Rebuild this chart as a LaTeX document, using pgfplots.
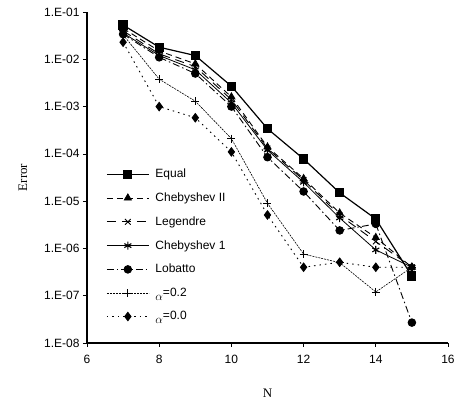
\documentclass[border=0pt]{standalone}
\usepackage{fontspec}
\setmainfont{Liberation Sans}
\newfontfamily\serifl{Liberation Serif}
\usepackage{pgfplots}
\pgfplotsset{compat=1.18}
\begin{document}
\begin{tikzpicture}
\begin{semilogyaxis}[name=ax,
  scale only axis, width=361pt, height=331pt,
  xmin=6, xmax=16, ymin=1e-8, ymax=1e-1,
  axis lines=left, axis line style={-, line width=1.2pt},
  tick align=outside, major tick length=4pt, tick style={black, line width=0.6pt},
  yminorticks=false,
  xtick={6,8,10,12,14,16}, xticklabels={6,8,10,12,14,16},
  ytick={1e-8,1e-7,1e-6,1e-5,1e-4,1e-3,1e-2,1e-1},
  yticklabels={1.E-08,1.E-07,1.E-06,1.E-05,1.E-04,1.E-03,1.E-02,1.E-01},
  ticklabel style={font=\fontsize{12}{14}\selectfont},
  xticklabel style={yshift=-5pt},
  xlabel={\serifl N}, ylabel={\serifl Error},
  label style={font=\fontsize{13}{15}\selectfont},
  xlabel style={yshift=-18pt},
  ylabel style={yshift=10pt},
  legend cell align=left,
  legend style={draw=none, fill=none, at={(rel axis cs:0.05,0.535)}, anchor=north west,
    font=\fontsize{12}{14}\selectfont, row sep=9.6pt, inner sep=1pt,
    nodes={inner xsep=6pt}},
  legend image code/.code={\draw[#1] (0pt,0pt) -- (21pt,0pt) -- (42pt,0pt);
    \draw[#1, solid] plot coordinates {(21pt,0pt)};},
  every axis plot/.append style={black},
]
\addplot[line width=1.2pt, mark=square*, mark size=4pt, mark options={solid}] coordinates
 {(7,5.3e-2)(8,1.8e-2)(9,1.2e-2)(10,2.7e-3)(11,3.4e-4)(12,7.8e-5)(13,1.5e-5)(14,4.2e-6)(15,2.6e-7)};
\addlegendentry{Equal}
\addplot[line width=0.9pt, dash pattern=on 6pt off 4pt, mark=triangle*, mark size=4pt, mark options={solid}] coordinates
 {(7,4.5e-2)(8,1.5e-2)(9,8e-3)(10,1.6e-3)(11,1.4e-4)(12,3e-5)(13,5.6e-6)(14,1.7e-6)(15,4e-7)};
\addlegendentry{Chebyshev II}
\addplot[line width=0.9pt, dash pattern=on 9pt off 6pt, mark=x, mark size=4pt, mark options={solid, line width=0.9pt}] coordinates
 {(7,4e-2)(8,1.3e-2)(9,7e-3)(10,1.4e-3)(11,1.3e-4)(12,2.8e-5)(13,5e-6)(14,1.4e-6)(15,4e-7)};
\addlegendentry{Legendre}
\addplot[line width=0.8pt, mark=asterisk, mark size=4pt, mark options={solid, line width=1.1pt}] coordinates
 {(7,3.6e-2)(8,1.2e-2)(9,6e-3)(10,1.2e-3)(11,1.2e-4)(12,2.5e-5)(13,4.4e-6)(14,9.3e-7)(15,4e-7)};
\addlegendentry{Chebyshev 1}
\addplot[line width=0.9pt, dash pattern=on 7pt off 3pt on 1.5pt off 3pt, mark=*, mark size=3.8pt, mark options={solid}] coordinates
 {(7,3.4e-2)(8,1.1e-2)(9,5e-3)(10,1e-3)(11,8.5e-5)(12,1.6e-5)(13,2.4e-6)(14,3.3e-6)(15,2.7e-8)};
\addlegendentry{Lobatto}
\addplot[line width=0.6pt, dash pattern=on 2pt off 1pt, mark=+, mark size=4pt, mark options={solid, line width=0.8pt}] coordinates
 {(7,3.3e-2)(8,3.8e-3)(9,1.3e-3)(10,2.1e-4)(11,9e-6)(12,7.6e-7)(13,5e-7)(14,1.2e-7)(15,4e-7)};
\addlegendentry{\raisebox{-4pt}{$\alpha$}=0.2}
\addplot[line width=0.9pt, dash pattern=on 1.5pt off 4pt, mark=diamond*, mark size=4.2pt, mark options={solid}] coordinates
 {(7,2.3e-2)(8,1.0e-3)(9,5.8e-4)(10,1.1e-4)(11,5.1e-6)(12,4e-7)(13,5.1e-7)(14,4e-7)(15,4e-7)};
\addlegendentry{\raisebox{-4pt}{$\alpha$}=0.0}
\end{semilogyaxis}
\path ([xshift=-87pt,yshift=-66pt]ax.south west) rectangle ([xshift=10pt,yshift=12pt]ax.north east);
\end{tikzpicture}
\end{document}
